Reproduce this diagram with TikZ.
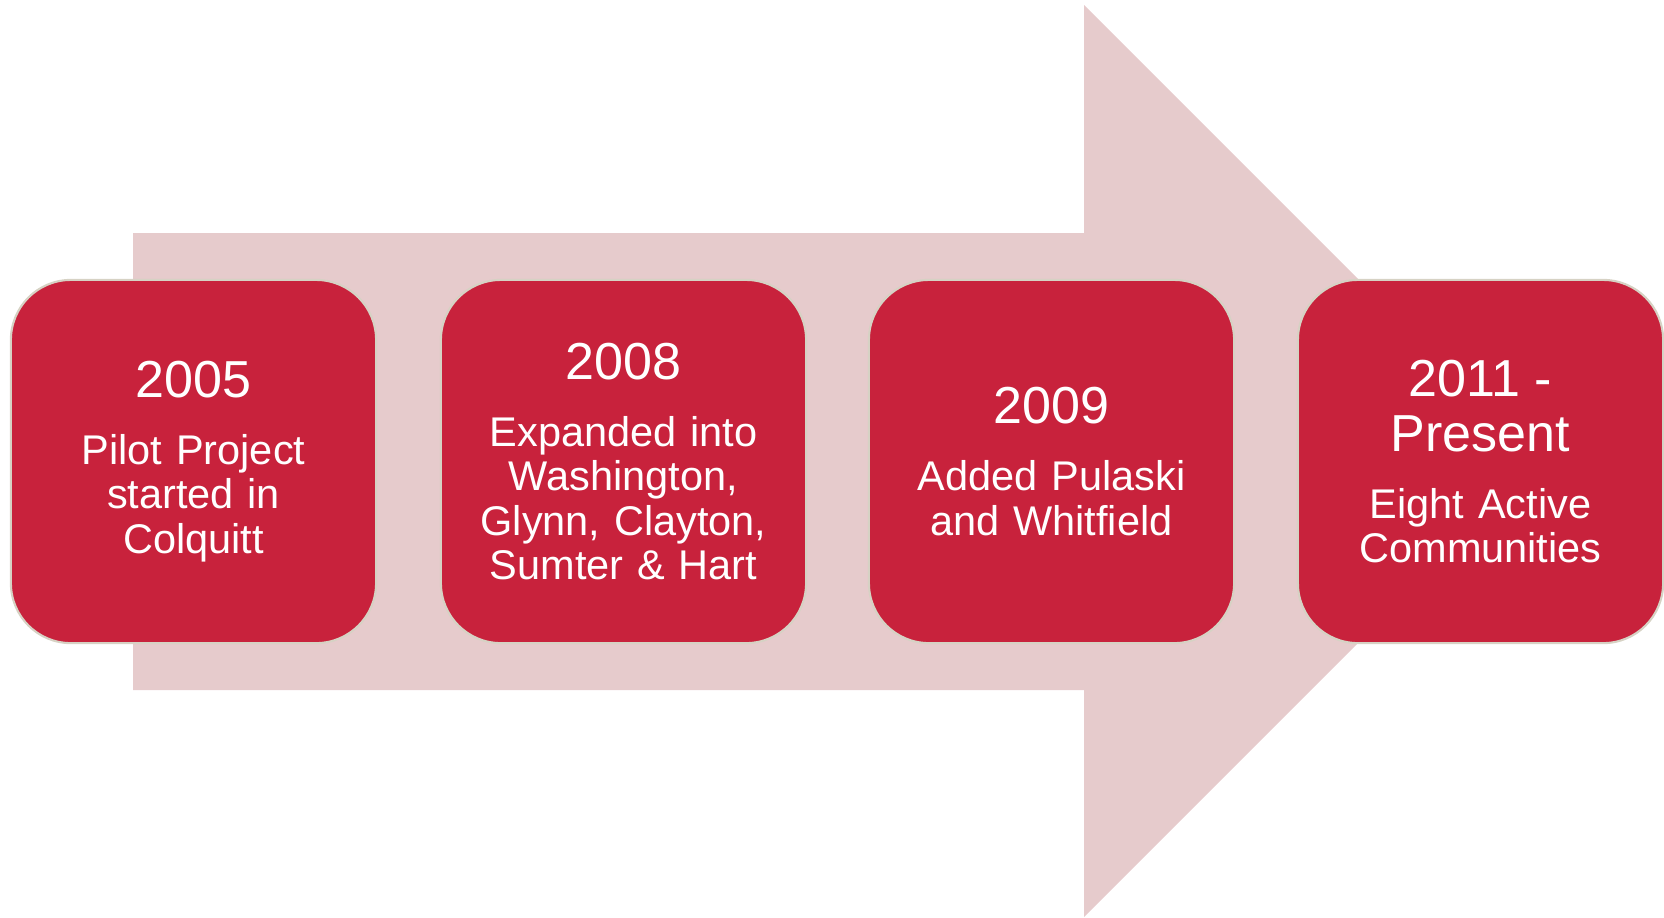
\documentclass[tikz,border=0pt]{standalone}
\usepackage{fontspec}
\setmainfont{Liberation Sans}
\usetikzlibrary{positioning}
\definecolor{boxred}{RGB}{200,34,60}
\definecolor{arrowpink}{RGB}{230,203,204}
\definecolor{boxrim}{RGB}{214,210,196}
\newcommand{\yearfont}{\fontsize{14.8pt}{15.7pt}\selectfont}
\newcommand{\bodyfont}{\fontsize{11.8pt}{12.6pt}\selectfont}
\tikzstyle{stage}=[rectangle,rounded corners=0.6cm,fill=boxred,draw=boxrim,line width=0.6pt,minimum width=3.65cm,minimum height=3.63cm,inner sep=0pt,text=white,text width=3.4cm,align=center,font=\bodyfont]

\begin{document}
\begin{tikzpicture}[x=0.01cm,y=-0.01cm]
\useasboundingbox (0,0) rectangle (1664,917);
% big arrow behind the stages
\fill[arrowpink] (133,233) -- (1084,233) -- (1084,5) -- (1540,461) -- (1084,917) -- (1084,690) -- (133,690) -- cycle;
\node[stage] (Y05) at (193.5,461.5) {{\yearfont 2005\par}\vspace{6.5pt}Pilot Project\\started in\\Colquitt};
\node[stage] (Y08) at (623.5,461.5) {{\yearfont 2008\par}\vspace{6.5pt}Expanded into\\Washington,\\Glynn, Clayton,\\Sumter \& Hart};
\node[stage] (Y09) at (1051.5,461.5) {{\yearfont 2009\par}\vspace{6.5pt}Added Pulaski\\and Whitfield};
%\node[stage] (Y10) at (1480.5,461.5) {};
\node[stage] (Y11) at (1480.5,461.5) {{\yearfont 2011 -\\Present\par}\vspace{6.5pt}Eight Active\\Communities};
\end{tikzpicture}
\end{document}
